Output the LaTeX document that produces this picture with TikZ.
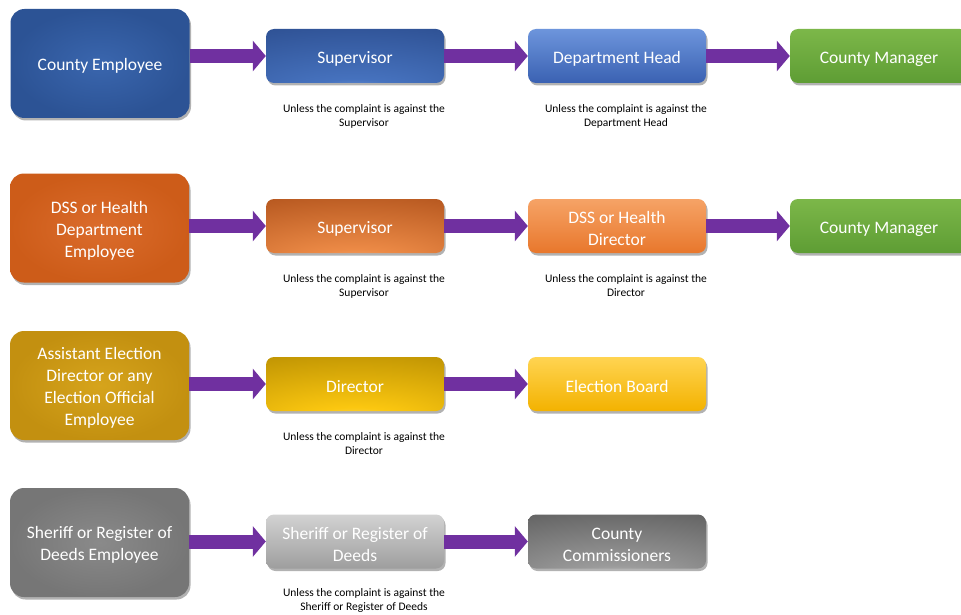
\documentclass[tikz,border=0pt]{standalone}
\usepackage{fontspec}
\setmainfont{Carlito}
\usetikzlibrary{shadows,arrows.meta,calc}
\newcommand\firstline{\rule{0pt}{17.5pt}}
\definecolor{arrowpurple}{HTML}{7030A0}
\definecolor{cBlueAi}{HTML}{3A66AE}\definecolor{cBlueAo}{HTML}{2C5395}
\definecolor{cBlueCt}{HTML}{6D95DC}\definecolor{cBlueCb}{HTML}{3A61B2}
\definecolor{cGreent}{HTML}{7CB749}\definecolor{cGreenb}{HTML}{5E9D34}
\definecolor{cOrAi}{HTML}{DB6C2C}\definecolor{cOrAo}{HTML}{CD5C19}
\definecolor{cOrCt}{HTML}{F6A366}\definecolor{cOrCb}{HTML}{E8772C}
\definecolor{cGoAi}{HTML}{D6A41C}\definecolor{cGoAo}{HTML}{C39010}
\definecolor{cGoCt}{HTML}{FFD451}\definecolor{cGoCb}{HTML}{F3B200}
\definecolor{cGrAi}{HTML}{8A8A8A}\definecolor{cGrAo}{HTML}{767676}
\definecolor{cGrBt}{HTML}{D2D2D2}\definecolor{cGrBb}{HTML}{9E9E9E}
% glow colours
\definecolor{gBin}{HTML}{A2BCEC}\definecolor{gBmid}{HTML}{4672BE}\definecolor{gBout}{HTML}{2A4B8C}
\definecolor{gOin}{HTML}{F8C59E}\definecolor{gOmid}{HTML}{EC8A46}\definecolor{gOout}{HTML}{AC4E18}
\definecolor{gGin}{HTML}{FFE894}\definecolor{gGmid}{HTML}{FBC710}\definecolor{gGout}{HTML}{B48A00}
\definecolor{gRin}{HTML}{CECECE}\definecolor{gRmid}{HTML}{9A9A9A}\definecolor{gRout}{HTML}{585858}
\colorlet{rin}{gBin}\colorlet{rmid}{gBmid}\colorlet{rout}{gBout}
\pgfdeclareradialshading[rin,rmid,rout]{lowglow}{\pgfpoint{0bp}{-44bp}}{color(0bp)=(rin);color(16bp)=(rmid);color(62bp)=(rout);color(110bp)=(rout)}
\begin{document}
\begin{tikzpicture}[x=1pt,y=-1pt,
  box/.style={rounded corners=8pt, text=white, align=center,
    font=\fontsize{17.5}{22}\selectfont, minimum width=178pt, minimum height=54pt,
    inner sep=2pt,
    drop shadow={shadow xshift=1.5pt, shadow yshift=-2.5pt, opacity=0.3, fill=black}},
  bigbox/.style={box, rounded corners=14pt, minimum width=179pt, minimum height=109pt},
  note/.style={font=\fontsize{11.5}{14}\selectfont, align=center, text=black, inner sep=0pt},
  arr/.style={line width=14pt, draw=arrowpurple, -{Triangle[length=13pt,width=30pt]}},
  glow/.style n args={3}{/utils/exec={\colorlet{rin}{#1}\colorlet{rmid}{#2}\colorlet{rout}{#3}}, shade, shading=lowglow},
  blueA/.style={inner color=cBlueAi, outer color=cBlueAo},
  blueB/.style={glow={gBin}{gBmid}{gBout}},
  blueC/.style={top color=cBlueCt, bottom color=cBlueCb},
  greenA/.style={top color=cGreent, bottom color=cGreenb},
  orangeA/.style={inner color=cOrAi, outer color=cOrAo},
  orangeB/.style={glow={gOin}{gOmid}{gOout}},
  orangeC/.style={top color=cOrCt, bottom color=cOrCb},
  goldA/.style={inner color=cGoAi, outer color=cGoAo},
  goldB/.style={glow={gGin}{gGmid}{gGout}},
  goldC/.style={top color=cGoCt, bottom color=cGoCb},
  grayA/.style={inner color=cGrAi, outer color=cGrAo},
  grayB/.style={top color=cGrBt, bottom color=cGrBb},
  grayC/.style={glow={gRin}{gRmid}{gRout}}
]
\fill[white] (0,0) rectangle (961,615);
\clip (0,0) rectangle (961,615);

% Row 1
\node[bigbox, blueA] (ce) at (100,63.5) {\firstline County Employee};
\node[box, blueB] (sup1) at (355,56) {\firstline Supervisor};
\node[box, blueC] (dh) at (617,56) {\firstline Department Head};
\node[box, greenA] (cm1) at (879,56) {\firstline County Manager};
\node[note] (n1a) at (364,116) {Unless the complaint is against the\\Supervisor};
\node[note] (n1b) at (626,116) {Unless the complaint is against the\\Department Head};
\draw[arr] (ce.east |- sup1.west) -- (sup1.west);
\draw[arr] (sup1.east) -- (dh.west);
\draw[arr] (dh.east) -- (cm1.west);

% Row 2
\node[bigbox, orangeA] (dss) at (99.5,228) {\firstline DSS or Health\\Department\\Employee};
\node[box, orangeB] (sup2) at (355,226) {\firstline Supervisor};
\node[box, orangeC] (dhd) at (617,226) {\firstline DSS or Health\\Director};
\node[box, greenA] (cm2) at (879,226) {\firstline County Manager};
\node[note] (n2a) at (364,286) {Unless the complaint is against the\\Supervisor};
\node[note] (n2b) at (626,286) {Unless the complaint is against the\\Director};
\draw[arr] (dss.east |- sup2.west) -- (sup2.west);
\draw[arr] (sup2.east) -- (dhd.west);
\draw[arr] (dhd.east) -- (cm2.west);

% Row 3
\node[bigbox, goldA] (aed) at (99.5,385.5) {\firstline Assistant Election\\Director or any\\Election Official\\Employee};
\node[box, goldB] (dir) at (355,384) {\firstline Director};
\node[box, goldC] (eb) at (617,384) {\firstline Election Board};
\node[note] (n3a) at (364,444) {Unless the complaint is against the\\Director};
\draw[arr] (aed.east |- dir.west) -- (dir.west);
\draw[arr] (dir.east) -- (eb.west);

% Row 4
\node[bigbox, grayA] (sre) at (99.5,542.5) {\firstline Sheriff or Register of\\Deeds Employee};
\node[box, grayB] (srd) at (355,541.5) {\firstline Sheriff or Register of\\Deeds};
\node[box, grayC] (cc) at (617,541.5) {\firstline County\\Commissioners};
\node[note] (n4a) at (364,600) {Unless the complaint is against the\\Sheriff or Register of Deeds};
\draw[arr] (sre.east |- srd.west) -- (srd.west);
\draw[arr] (srd.east) -- (cc.west);
\end{tikzpicture}
\end{document}
